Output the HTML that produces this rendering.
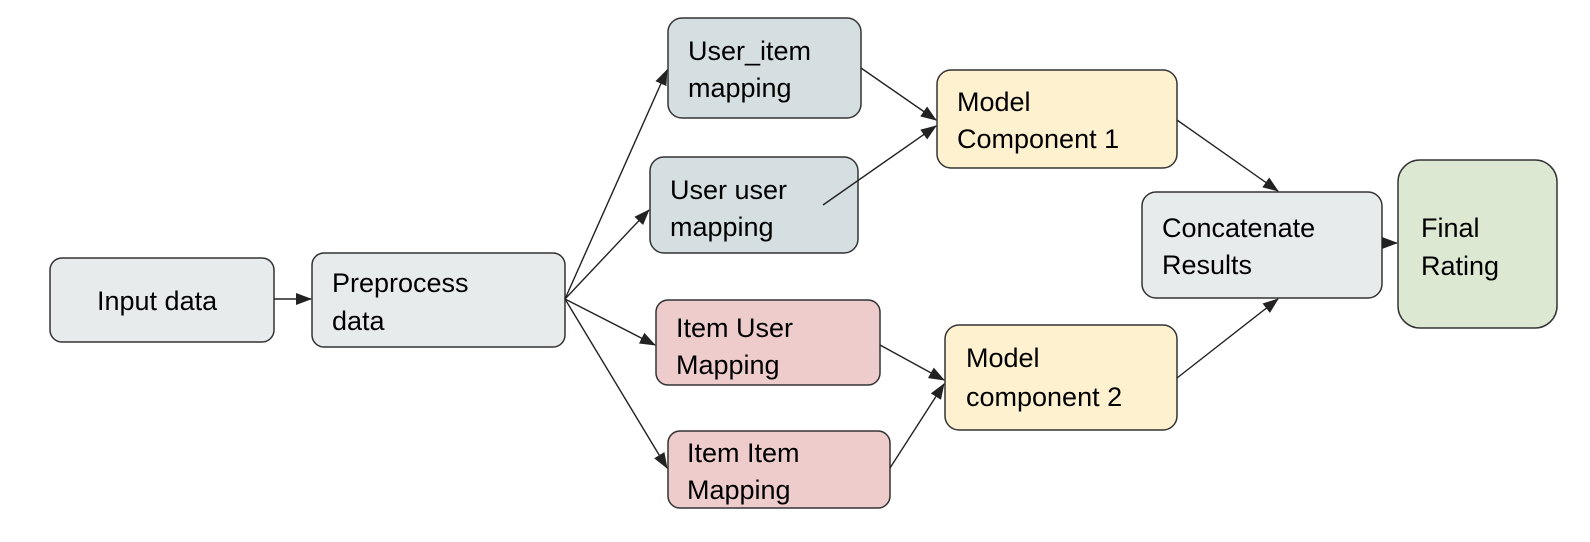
<!DOCTYPE html>
<html><head><meta charset="utf-8"><style>
html,body{margin:0;padding:0;background:#fff;}
svg{display:block;}
text{font-family:"Liberation Sans",Arial,sans-serif;font-size:27px;fill:#000;}
</style></head><body>
<svg width="1590" height="542" viewBox="0 0 1590 542" xmlns="http://www.w3.org/2000/svg">
<defs>
<marker id="a" markerWidth="16" markerHeight="12" refX="15" refY="6" orient="auto" markerUnits="userSpaceOnUse" viewBox="0 0 16 12">
<path d="M0,0 L16,6 L0,12 z" fill="#222"/>
</marker>
</defs>
<g stroke="#333" stroke-width="1.5">
<rect x="50" y="258" width="224" height="84" rx="12" fill="#e8ebec"/>
<rect x="312" y="253" width="253" height="94" rx="12" fill="#e8ebec"/>
<rect x="668" y="18" width="193" height="100" rx="14" fill="#d5dfe1"/>
<rect x="650" y="157" width="208" height="96" rx="14" fill="#d5dfe1"/>
<rect x="656" y="300" width="224" height="85" rx="12" fill="#efcccc"/>
<rect x="668" y="431" width="222" height="77" rx="12" fill="#efcccc"/>
<rect x="937" y="70" width="240" height="98" rx="14" fill="#fdf1cf"/>
<rect x="945" y="325" width="232" height="105" rx="14" fill="#fdf1cf"/>
<rect x="1142" y="192" width="240" height="106" rx="14" fill="#e8ebec"/>
<rect x="1398" y="160" width="159" height="168" rx="22" fill="#dde8d3"/>
</g>
<g stroke="#222" stroke-width="1.4" fill="none" marker-end="url(#a)">
<line x1="274" y1="299" x2="311" y2="299"/>
<line x1="565" y1="299" x2="667" y2="70"/>
<line x1="565" y1="299" x2="649" y2="210"/>
<line x1="565" y1="299" x2="655" y2="345"/>
<line x1="565" y1="299" x2="667" y2="468"/>
<line x1="861" y1="68" x2="936" y2="120"/>
<line x1="823" y1="205" x2="936" y2="126"/>
<line x1="880" y1="345" x2="944" y2="380"/>
<line x1="890" y1="468" x2="944" y2="384"/>
<line x1="1177" y1="120" x2="1278" y2="191"/>
<line x1="1177" y1="378" x2="1278" y2="299"/>
<line x1="1382" y1="243" x2="1397" y2="243"/>
</g>
<text x="97" y="310">Input data</text>
<text x="332" y="292">Preprocess</text><text x="332" y="330">data</text>
<text x="688" y="60">User_item</text><text x="688" y="97">mapping</text>
<text x="670" y="199">User user</text><text x="670" y="236">mapping</text>
<text x="676" y="337">Item User</text><text x="676" y="374">Mapping</text>
<text x="687" y="462">Item Item</text><text x="687" y="499">Mapping</text>
<text x="957" y="111">Model</text><text x="957" y="148">Component 1</text>
<text x="966" y="367">Model</text><text x="966" y="406">component 2</text>
<text x="1162" y="237">Concatenate</text><text x="1162" y="274">Results</text>
<text x="1421" y="237">Final</text><text x="1421" y="275">Rating</text>
</svg>
</body></html>
